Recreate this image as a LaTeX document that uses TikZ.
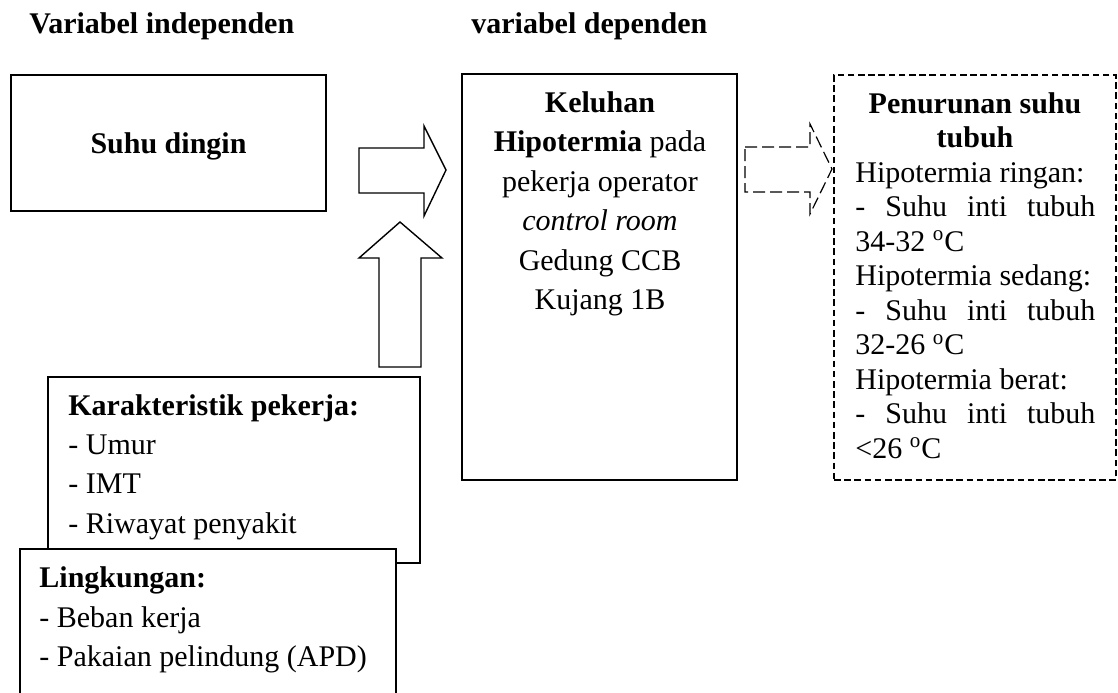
\documentclass[tikz,border=0pt]{standalone}
\usepackage{fontspec}
\setmainfont{Liberation Serif}
\begin{document}
\begin{tikzpicture}[x=0.5pt,y=-0.5pt,
  box/.style={draw, line width=0.7pt, fill=white, inner sep=0pt, outer sep=0pt, anchor=north west},
  dbox/.style={draw, line width=0.6pt, dash pattern=on 3.3pt off 1.8pt, inner sep=0pt, outer sep=0pt, anchor=north west},
  txt/.style={inner sep=0pt, anchor=base, font=\fontsize{15}{18}\selectfont},
  ltxt/.style={txt, anchor=base west},
  blk/.style={draw, line width=0.7pt, fill=white, line join=miter},
  dblk/.style={draw, line width=0.6pt, dash pattern=on 6pt off 2.5pt, line join=miter},
]
\useasboundingbox (0,0) rectangle (1118,692);

% titles
\node[ltxt] (tind) at (29,33) {\textbf{Variabel independen}};
\node[ltxt] (tdep) at (471,33) {\textbf{variabel dependen}};

% boxes
\node[box, minimum width=157.5pt, minimum height=68pt] (suhu) at (11,75) {};
\node[box, minimum width=137.5pt, minimum height=203pt] (kel) at (462,74) {};
\node[dbox, minimum width=141pt, minimum height=202.5pt] (pen) at (834,75) {};
\node[box, minimum width=186pt, minimum height=93pt] (kar) at (48,377) {};
\node[box, minimum width=188pt, minimum height=90pt] (lin) at (20,549) {};

% block arrows
\draw[blk] (359,148) -- (424,148) -- (424,126) -- (446,170) -- (424,216) -- (424,193) -- (359,193) -- cycle;
\draw[blk] (379,367) -- (379,258) -- (359,258) -- (400,222) -- (442,258) -- (421,258) -- (421,367) -- cycle;
\draw[dblk] (745,147) -- (810,147) -- (810,124) -- (832,169) -- (810,214) -- (810,192) -- (745,192) -- cycle;

% Suhu dingin
\node[txt] (s1) at (168.5,153) {\textbf{Suhu dingin}};

% central box text
\node[txt] (k1) at (600,112) {\textbf{Keluhan}};
\node[txt] (k2) at (600,151.5) {\textbf{Hipotermia} pada};
\node[txt] (k3) at (600,191) {pekerja operator};
\node[txt] (k4) at (600,230.5) {\textit{control room}};
\node[txt] (k5) at (600,270) {Gedung CCB};
\node[txt] (k6) at (600,309.5) {Kujang 1B};

% dashed box text
\node[txt] (p1) at (975,113) {\textbf{Penurunan suhu}};
\node[txt] (p2) at (975,147.5) {\textbf{tubuh}};
\node[ltxt] (p3) at (855,182) {Hipotermia ringan:};
\node[ltxt] (p4) at (855,216.5) {\makebox[120pt][s]{- Suhu inti tubuh}};
\node[ltxt] (p5) at (855,251) {34-32 \textsuperscript{o}C};
\node[ltxt] (p6) at (855,285.5) {Hipotermia sedang:};
\node[ltxt] (p7) at (855,320) {\makebox[120pt][s]{- Suhu inti tubuh}};
\node[ltxt] (p8) at (855,354.5) {32-26 \textsuperscript{o}C};
\node[ltxt] (p9) at (855,389) {Hipotermia berat:};
\node[ltxt] (p10) at (855,423.5) {\makebox[120pt][s]{- Suhu inti tubuh}};
\node[ltxt] (p11) at (855,458) {<26 \textsuperscript{o}C};

% Karakteristik
\node[ltxt] (c1) at (68,415) {\textbf{Karakteristik pekerja:}};
\node[ltxt] (c2) at (68,454) {- Umur};
\node[ltxt] (c3) at (68,493.5) {- IMT};
\node[ltxt] (c4) at (68,533) {- Riwayat penyakit};

% Lingkungan
\node[ltxt] (l1) at (39,587) {\textbf{Lingkungan:}};
\node[ltxt] (l2) at (39,627) {- Beban kerja};
\node[ltxt] (l3) at (39,666) {- Pakaian pelindung (APD)};
\end{tikzpicture}
\end{document}
